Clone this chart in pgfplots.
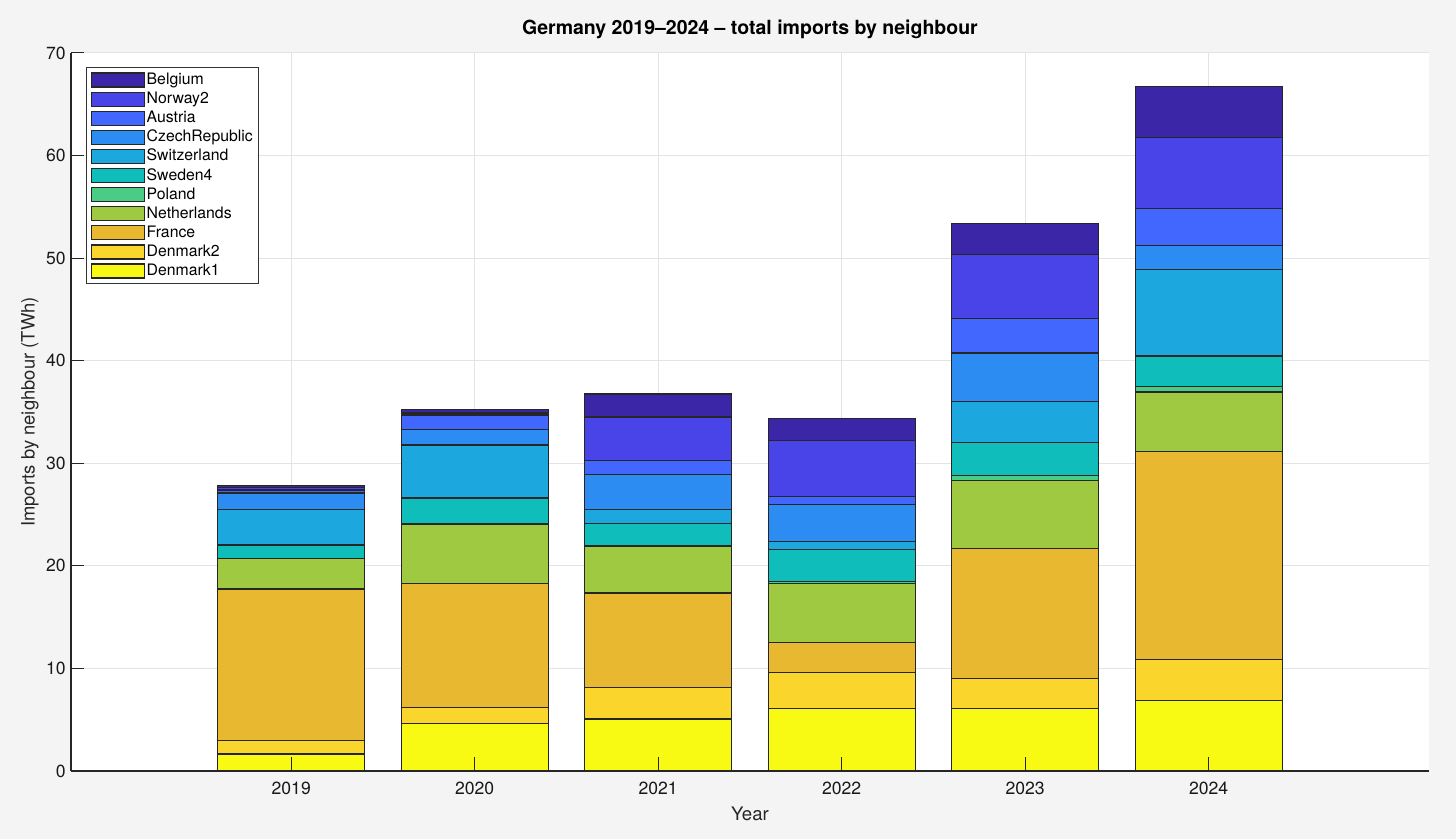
\documentclass[border=0pt]{standalone}
\usepackage{pgfplots}
\pgfplotsset{compat=1.18}
\usepackage{pgfplotstable}
\usepackage{fontspec}
\setmainfont{TeX Gyre Heros}

\definecolor{bgc}{HTML}{F4F4F4}
\definecolor{gridc}{HTML}{E3E3E3}
\definecolor{axc}{HTML}{262626}
\definecolor{cBE}{HTML}{3C26A8}
\definecolor{cNO}{HTML}{4844E8}
\definecolor{cAT}{HTML}{4267FE}
\definecolor{cCZ}{HTML}{2C8CF2}
\definecolor{cCH}{HTML}{1CA8DE}
\definecolor{cSE}{HTML}{0FBEBA}
\definecolor{cPL}{HTML}{4ACC87}
\definecolor{cNL}{HTML}{A0C942}
\definecolor{cFR}{HTML}{E8B830}
\definecolor{cDKb}{HTML}{FAD62C}
\definecolor{cDKa}{HTML}{F8FA14}

% imports by neighbour, TWh
\pgfplotstableread{
year Denmark1 Denmark2 France Netherlands Poland Sweden4 Switzerland CzechRepublic Austria Norway2 Belgium
2019 1.65 1.30 14.79 2.96 0.02 1.31 3.45 1.62 0.30 0.20 0.20
2020 4.61 1.60 12.09 5.78 0.03 2.50 5.17 1.53 1.40 0.19 0.33
2021 5.07 3.05  9.23 4.52 0.10 2.18 1.36 3.38 1.36 4.26 2.25
2022 6.11 3.51  2.93 5.75 0.19 3.12 0.78 3.61 0.78 5.42 2.18
2023 6.11 2.89 12.71 6.63 0.49 3.22 3.99 4.71 3.39 6.23 3.03
2024 6.89 3.96 20.30 5.80 0.52 2.99 8.42 2.34 3.61 6.92 5.00
}\imports

\pgfplotsset{
  frame/.style={
    at={(35.5pt,34pt)}, anchor=south west,
    scale only axis, width=679pt, height=359pt,
    xmin=2017.8, xmax=2025.2, ymin=0, ymax=70,
    xtick={2019,...,2024}, ytick={0,10,...,70},
    axis lines=left,
  },
  patch/.style={draw=black!85, line width=0.6pt,
    legend image code/.code={\draw[##1] (0pt,-3.5pt) rectangle (26.5pt,3.5pt);}},
}

\begin{document}
\begin{tikzpicture}
\fill[bgc] (0,0) rectangle (728pt,419.5pt);
\begin{axis}[
  frame,
  axis background/.style={fill=white},
  axis line style={draw=none},
  major tick length=0pt,
  grid=major,
  grid style={draw=gridc, line width=0.5pt},
  ybar stacked,
  bar width=0.8,
  /pgf/number format/1000 sep={},
  /pgf/number format/assume math mode=true,
  ticklabel style={font=\fontsize{8.8}{10}\selectfont, text=black!90},
  xticklabel style={anchor=base, yshift=-11.8pt},
  yticklabel style={anchor=east, inner sep=0pt, xshift=-2.5pt},
  title={Germany 2019--2024 -- total imports by neighbour},
  title style={at={(0.5,1)}, anchor=base, yshift=3pt,
    font=\bfseries\fontsize{9.75}{11}\selectfont},
  xlabel={Year},
  ylabel={Imports by neighbour (TWh)},
  xlabel style={at={(axis description cs:0.5,-0.06)}, anchor=center,
    font=\fontsize{9.3}{11}\selectfont, text=axc},
  ylabel style={at={(axis description cs:-0.0302,0.5)}, anchor=center,
    font=\fontsize{9.2}{11}\selectfont, text=axc},
  reverse legend,
  legend cell align=left,
  legend style={at={(0,1)}, anchor=north west, xshift=7.5pt, yshift=-7pt,
    draw=black!80, line width=0.5pt, fill=white,
    font=\fontsize{7.9}{9}\selectfont,
    inner xsep=2pt, inner ysep=1.5pt, row sep=0pt,
    nodes={inner sep=1pt, text height=6pt, text depth=1.55pt},
    /tikz/every even column/.append style={column sep=0pt}},
]
\addplot[fill=cDKa, patch] table[x=year, y=Denmark1] {\imports};
\addplot[fill=cDKb, patch] table[x=year, y=Denmark2] {\imports};
\addplot[fill=cFR, patch] table[x=year, y=France] {\imports};
\addplot[fill=cNL, patch] table[x=year, y=Netherlands] {\imports};
\addplot[fill=cPL, patch] table[x=year, y=Poland] {\imports};
\addplot[fill=cSE, patch] table[x=year, y=Sweden4] {\imports};
\addplot[fill=cCH, patch] table[x=year, y=Switzerland] {\imports};
\addplot[fill=cCZ, patch] table[x=year, y=CzechRepublic] {\imports};
\addplot[fill=cAT, patch] table[x=year, y=Austria] {\imports};
\addplot[fill=cNO, patch] table[x=year, y=Norway2] {\imports};
\addplot[fill=cBE, patch] table[x=year, y=Belgium] {\imports};
\legend{Denmark1,Denmark2,France,Netherlands,Poland,Sweden4,Switzerland,CzechRepublic,Austria,Norway2,Belgium}
\end{axis}
% ticks and axis lines drawn over the bars
\begin{axis}[
  frame,
  axis line style={-, draw=axc, line width=0.6pt},
  tick align=inside,
  major tick length=6.8pt,
  tick style={draw=axc, line width=0.5pt},
  xticklabels={}, yticklabels={},
]
\end{axis}
\end{tikzpicture}
\end{document}
